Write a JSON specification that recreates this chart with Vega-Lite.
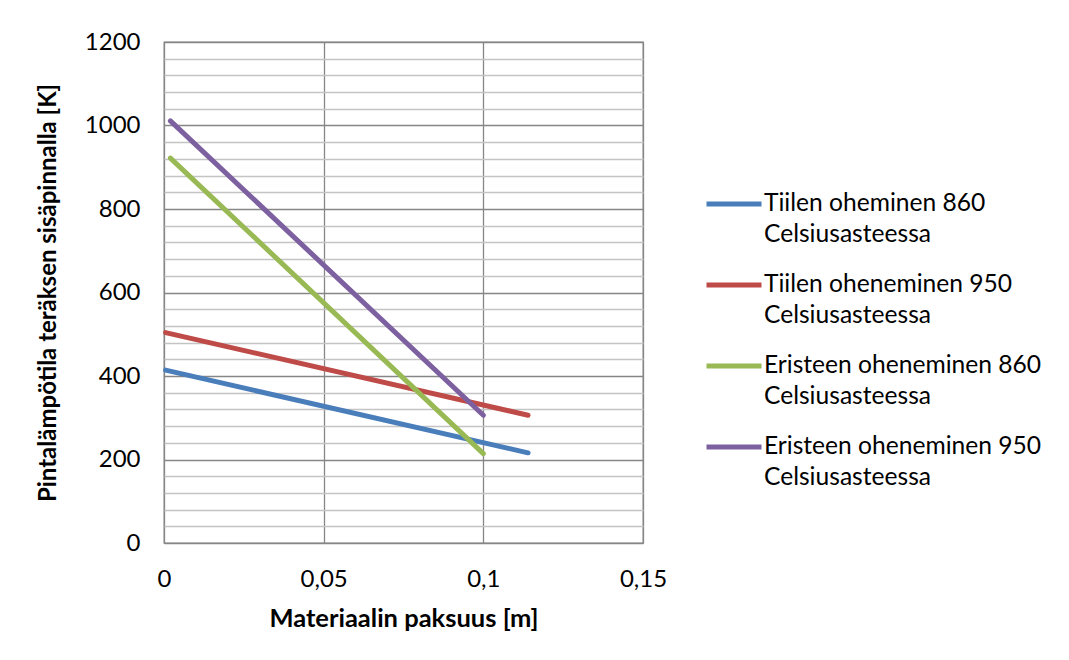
{
  "$schema": "https://vega.github.io/schema/vega-lite/v6.json",
  "width": 479,
  "height": 501,
  "autosize": {"type": "none"},
  "padding": {"left": 164, "top": 42, "right": 426, "bottom": 117},
  "background": "white",
  "data": {
    "values": [
      {"sarja": "Tiilen oheminen 860 Celsiusasteessa", "paksuus": 0.0005, "lampotila": 414},
      {"sarja": "Tiilen oheminen 860 Celsiusasteessa", "paksuus": 0.114, "lampotila": 216},
      {"sarja": "Tiilen oheneminen 950 Celsiusasteessa", "paksuus": 0.0005, "lampotila": 504},
      {"sarja": "Tiilen oheneminen 950 Celsiusasteessa", "paksuus": 0.114, "lampotila": 306},
      {"sarja": "Eristeen oheneminen 860 Celsiusasteessa", "paksuus": 0.002, "lampotila": 922},
      {"sarja": "Eristeen oheneminen 860 Celsiusasteessa", "paksuus": 0.1, "lampotila": 214},
      {"sarja": "Eristeen oheneminen 950 Celsiusasteessa", "paksuus": 0.002, "lampotila": 1011},
      {"sarja": "Eristeen oheneminen 950 Celsiusasteessa", "paksuus": 0.1, "lampotila": 306}
    ]
  },
  "mark": {"type": "line", "strokeWidth": 5, "strokeCap": "round"},
  "encoding": {
    "x": {
      "field": "paksuus",
      "type": "quantitative",
      "scale": {"domain": [0, 0.15], "nice": false, "zero": true},
      "axis": {
        "title": "Materiaalin paksuus [m]",
        "values": [0, 0.05, 0.1, 0.15],
        "labelExpr": "replace(toString(datum.value), '.', ',')",
        "labelFlush": false,
        "labelBound": false,
        "grid": true,
        "gridColor": "#868686",
        "gridWidth": 1.3,
        "ticks": false,
        "domain": false,
        "labelPadding": 24,
        "titlePadding": 15,
        "titleFontSize": 25.5
      }
    },
    "y": {
      "field": "lampotila",
      "type": "quantitative",
      "scale": {"domain": [0, 1200], "nice": false},
      "axis": {
        "title": "Pintalämpötila teräksen sisäpinnalla [K]",
        "values": [0, 40, 80, 120, 160, 200, 240, 280, 320, 360, 400, 440, 480, 520, 560, 600, 640, 680, 720, 760, 800, 840, 880, 920, 960, 1000, 1040, 1080, 1120, 1160, 1200],
        "labelExpr": "datum.value % 200 === 0 ? toString(datum.value) : ''",
        "grid": true,
        "gridColor": {"condition": {"test": "datum.value % 200 === 0", "value": "#868686"}, "value": "#C4C4C4"},
        "gridWidth": 1.3,
        "ticks": false,
        "domain": false,
        "labelPadding": 24,
        "titlePadding": 24
      }
    },
    "color": {
      "field": "sarja",
      "type": "nominal",
      "sort": null,
      "scale": {
        "domain": [
          "Tiilen oheminen 860 Celsiusasteessa",
          "Tiilen oheneminen 950 Celsiusasteessa",
          "Eristeen oheneminen 860 Celsiusasteessa",
          "Eristeen oheneminen 950 Celsiusasteessa"
        ],
        "range": ["#4A7EBB", "#BE4B48", "#98B954", "#7D60A0"]
      },
      "legend": {
        "title": null,
        "orient": "none",
        "legendX": 540,
        "legendY": 132,
        "padding": 0,
        "symbolType": "stroke",
        "symbolSize": 3025,
        "symbolStrokeWidth": 5,
        "labelOffset": 0,
        "rowPadding": 8,
        "labelLimit": 400,
        "labelExpr": "[slice(datum.label, 0, indexof(datum.label, ' Celsius')), 'Celsiusasteessa']",
        "encode": {"labels": {"update": {"lineHeight": {"value": 30.5}}}}
      }
    }
  },
  "config": {
    "view": {"stroke": "#868686", "strokeWidth": 1.3},
    "font": "Lato",
    "axis": {
      "labelFont": "Lato",
      "labelFontSize": 24,
      "labelColor": "#000000",
      "titleFont": "Lato",
      "titleFontSize": 24,
      "titleFontWeight": "bold",
      "titleColor": "#000000"
    },
    "legend": {
      "labelFont": "Lato",
      "labelFontSize": 24.6,
      "labelColor": "#000000"
    }
  }
}
